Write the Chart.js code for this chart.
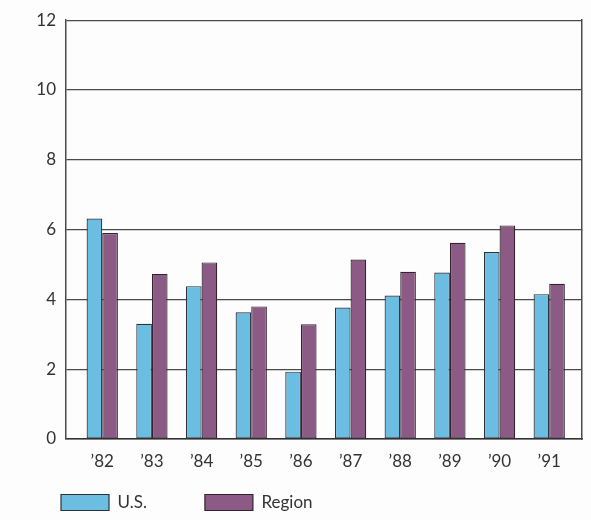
<!DOCTYPE html>
<html lang="en">
<head>
    <meta charset="UTF-8">
    <title>U.S. vs Region</title>
    <script src="https://cdn.jsdelivr.net/npm/chart.js"></script>
    <style>
        html, body { margin: 0; padding: 0; background: #fdfdfd; }
        #wrap { width: 591px; height: 520px; }
    </style>
</head>
<body>
    <div id="wrap"><canvas id="myChart" width="591" height="520"></canvas></div>

    <script>
        const years = ['\u201982', '\u201983', '\u201984', '\u201985', '\u201986', '\u201987', '\u201988', '\u201989', '\u201990', '\u201991'];
        const usValues = [6.32, 3.30, 4.38, 3.63, 1.93, 3.77, 4.11, 4.77, 5.36, 4.15];
        const regionValues = [5.90, 4.73, 5.06, 3.80, 3.29, 5.14, 4.79, 5.62, 6.12, 4.45];
        const yTicks = [0, 2, 4, 6, 8, 10, 12];

        const textColor = '#333';
        const lineColor = '#4a4a4a';
        const fontFamily = 'Lato, "Open Sans", sans-serif';

        function toPoints(values) {
            return values.map((v, i) => ({ x: i, y: v }));
        }

        // legend padding is small (it also sets the legend height), so widen the gap after the first item
        function legendLabels(chart) {
            const items = Chart.defaults.plugins.legend.labels.generateLabels(chart);
            items.forEach((item, i) => {
                if (i < items.length - 1) item.text += '\u2003\u2003\u2002';
            });
            return items;
        }

        const ctx = document.getElementById('myChart').getContext('2d');
        new Chart(ctx, {
            type: 'bar',
            data: {
                datasets: [{
                    label: 'U.S.',
                    data: toPoints(usValues),
                    backgroundColor: '#6cbde2',
                    borderColor: '#2a323a',
                    borderWidth: 1.2,
                    borderSkipped: false
                }, {
                    label: 'Region',
                    data: toPoints(regionValues),
                    backgroundColor: '#8b5a85',
                    borderColor: '#332330',
                    borderWidth: 1.2,
                    borderSkipped: false
                }]
            },
            options: {
                responsive: false,
                animation: false,
                categoryPercentage: 0.63,
                barPercentage: 1.0,
                layout: { padding: { left: 37, right: 9, top: 12, bottom: -1 } },
                plugins: {
                    tooltip: { enabled: false },
                    legend: {
                        position: 'bottom',
                        align: 'start',
                        labels: {
                            boxWidth: 48,
                            boxHeight: 16,
                            padding: 24,
                            color: textColor,
                            font: { family: fontFamily, size: 17 },
                            generateLabels: legendLabels
                        }
                    }
                },
                scales: {
                    x: {
                        type: 'linear',
                        offset: false,
                        min: -0.73,
                        max: 9.66,
                        afterBuildTicks: s => { s.ticks = years.map((_, i) => ({ value: i })); },
                        afterFit: s => { s.height = 31; },
                        ticks: {
                            autoSkip: false,
                            maxRotation: 0,
                            padding: 12,
                            color: textColor,
                            font: { family: fontFamily, size: 17 },
                            callback: v => years[v]
                        },
                        grid: { display: false, drawTicks: false, offset: false },
                        border: { display: true, color: '#333', width: 1.5 }
                    },
                    y: {
                        min: 0,
                        max: 12,
                        afterBuildTicks: s => { s.ticks = yTicks.map(v => ({ value: v })); },
                        afterFit: s => { s.width = 29; },
                        ticks: {
                            padding: 10,
                            color: textColor,
                            font: { family: fontFamily, size: 17 }
                        },
                        grid: { color: lineColor, lineWidth: 1.2, drawTicks: false },
                        border: { display: true, color: lineColor, width: 1.5 }
                    },
                    y2: {
                        position: 'right',
                        min: 0,
                        max: 12,
                        afterFit: s => { s.width = 0; },
                        ticks: { display: false },
                        grid: { display: false, drawTicks: false },
                        border: { display: true, color: lineColor, width: 1.5 }
                    }
                }
            }
        });
    </script>
</body>
</html>
